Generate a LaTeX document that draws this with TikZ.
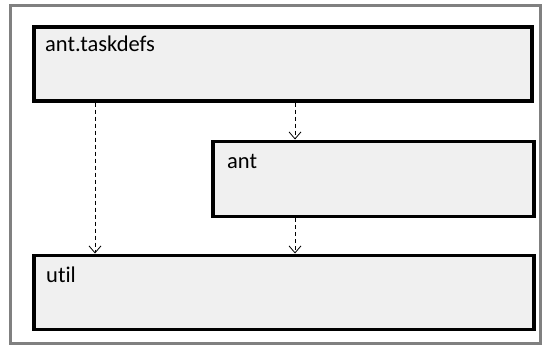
\documentclass[tikz,border=0pt]{standalone}
\usepackage{fontspec}
\setmainfont[Ligatures=NoCommon]{Carlito}
\usetikzlibrary{arrows.meta}
\begin{document}
\begin{tikzpicture}[x=1pt,y=-1pt,
  pkg/.style={draw=black,line width=3.5pt,fill=black!6,rectangle,anchor=north west,inner sep=0pt},
  lbl/.style={anchor=base west,font=\fontsize{22.5}{27}\selectfont,inner sep=0pt},
  dep/.style={draw=black,dashed,dash pattern=on 4pt off 3pt,line width=0.8pt,-{Straight Barb[length=7pt,width=12pt,line width=0.8pt]}}]
\useasboundingbox (0,0) rectangle (550,348);
\draw[draw=black!50,line width=3pt,fill=white] (10.5,5.5) rectangle (540.5,343.5);
\node[pkg,minimum width=498pt,minimum height=74pt] (td) at (32,25) {};
\node[pkg,minimum width=321pt,minimum height=75pt] (ant) at (211,139.5) {};
\node[pkg,minimum width=500pt,minimum height=74pt] (util) at (32,253.5) {};
\node[lbl] (tdl) at (45,52) {ant.taskdefs};
\node[lbl] (antl) at (227,168) {ant};
\node[lbl] (utill) at (46,282) {util};
\draw[dep] (td.south west) ++(63,0) coordinate (a1) -- (a1 |- util.north);
\draw[dep] (td.south west) ++(263,0) coordinate (a2) -- (a2 |- ant.north);
\draw[dep] (ant.south west) ++(84,0) coordinate (a3) -- (a3 |- util.north);
\end{tikzpicture}
\end{document}
